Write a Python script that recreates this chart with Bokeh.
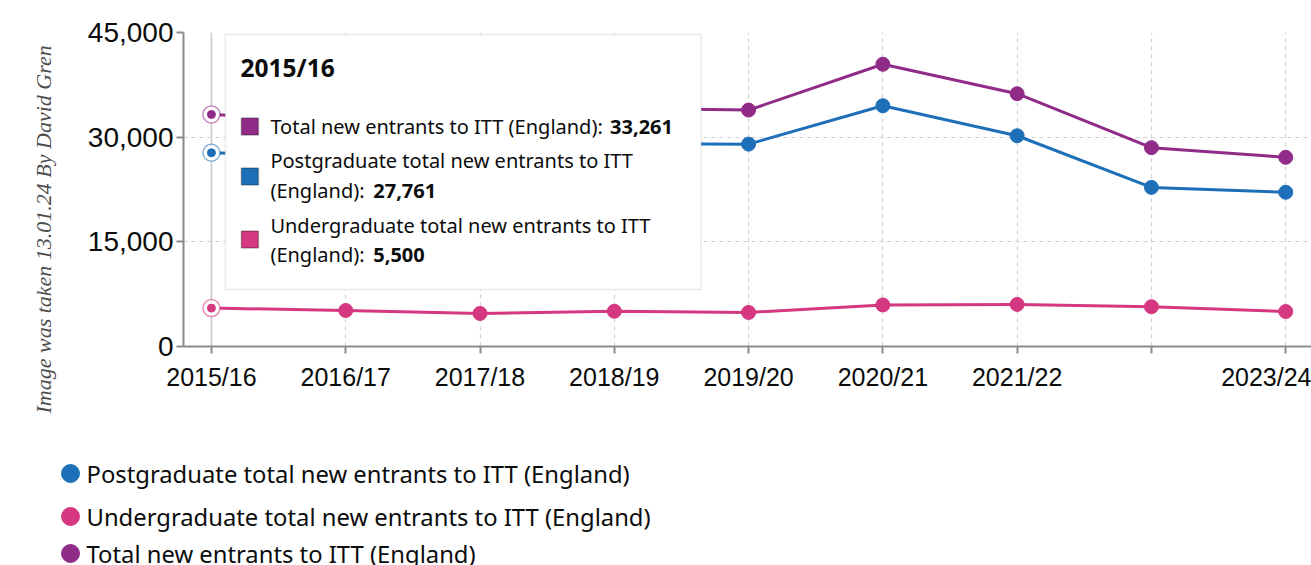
import math
from bokeh.plotting import figure
from bokeh.layouts import column
from bokeh.core.properties import value
from bokeh.models import (FixedTicker, NumeralTickFormatter, BoxAnnotation, Label, Span,
                          Range1d, Title)
from bokeh.embed import file_html
from bokeh.resources import INLINE

# ---------------- data ----------------
years = ["2015/16", "2016/17", "2017/18", "2018/19", "2019/20",
         "2020/21", "2021/22", "2022/23", "2023/24"]
hidden_tick_labels = ["2022/23"]          # label not shown on the reference axis
postgraduate = [27761, 27200, 27400, 29100, 29000, 34500, 30200, 22800, 22100]
undergraduate = [5500, 5160, 4740, 5050, 4880, 5950, 6030, 5700, 5010]
total = [33261, 32360, 32140, 34150, 33880, 40450, 36230, 28500, 27110]
y_ticks = [0, 15000, 30000, 45000]

series_names = ["Postgraduate total new entrants to ITT (England)",
                "Undergraduate total new entrants to ITT (England)",
                "Total new entrants to ITT (England)"]
series_values = [postgraduate, undergraduate, total]
series_colors = ["#1d70b8", "#d53880", "#912b88"]

hover_index = 0
watermark = "Image was taken 13.01.24 By David Gren"

TEXT = "#0b0c0c"
FONT = "Noto Sans"

x = list(range(len(years)))

# ---------------- main chart ----------------
p = figure(width=1311, height=430, output_backend="svg", toolbar_location=None,
           x_range=Range1d(-0.208, 8.192), y_range=Range1d(0, 45000),
           min_border_left=182, min_border_right=0, min_border_top=32,
           min_border_bottom=84, background_fill_color="white",
           border_fill_color="white")
p.outline_line_color = None
p.frame_align = False

p.add_layout(Title(text=watermark, align="left", offset=-67, standoff=57,
                   text_font="Liberation Serif", text_font_style="italic",
                   text_font_size="22px", text_color="#4d4d4d"), "left")

p.yaxis.ticker = FixedTicker(ticks=y_ticks)
p.yaxis.formatter = NumeralTickFormatter(format="0,0")
p.xaxis.ticker = FixedTicker(ticks=x)
p.xaxis.major_label_overrides = {i: ("" if y in hidden_tick_labels else y) for i, y in enumerate(years)}
for ax in (p.xaxis, p.yaxis):
    ax.axis_line_color = "#8a8c8e"
    ax.axis_line_width = 2
    ax.major_tick_line_color = "#8a8c8e"
    ax.major_tick_line_width = 2
    ax.major_tick_out = 7
    ax.major_tick_in = 0
    ax.minor_tick_line_color = None
    ax.major_label_text_color = TEXT
    ax.major_label_text_font = "Liberation Sans"
p.yaxis.major_label_text_font_size = "28px"
p.yaxis.major_label_standoff = 3
p.xaxis.major_label_text_font_size = "25px"
p.xaxis.major_label_standoff = 9

p.xgrid.ticker = FixedTicker(ticks=x)
p.ygrid.ticker = FixedTicker(ticks=y_ticks[1:])
for g in (p.xgrid, p.ygrid):
    g.grid_line_color = "#cfd1d2"
    g.grid_line_dash = "4 4"
    g.grid_line_width = 1.2

p.add_layout(Span(location=hover_index, dimension="height", line_color="#c8cacb",
                  line_width=1.5, level="underlay"))

for name, vals, col in zip(series_names, series_values, series_colors):
    p.line(x, vals, line_color=col, line_width=3)
    xs = [xi for xi in x if xi != hover_index]
    ys = [v for xi, v in zip(x, vals) if xi != hover_index]
    p.scatter(xs, ys, size=14, fill_color=col, line_color=col)
    p.scatter([hover_index], [vals[hover_index]], size=17, fill_color="white",
              line_color=col, line_alpha=0.55, line_width=1.5)
    p.scatter([hover_index], [vals[hover_index]], size=8, fill_color=col, line_color=col)

# ---------------- tooltip box ----------------
pxx = 134.4            # px per category
pyy = 45000 / 314.0    # value per px
def dx(px):
    return (px - 210) / pxx
def dy(py):
    return (346 - py) * pyy

p.add_layout(BoxAnnotation(left=dx(224), right=dx(700), top=dy(34), bottom=dy(289),
                           fill_color="white", fill_alpha=1.0, line_color="#b9bbbd",
                           line_width=1.5, level="overlay"))
p.add_layout(Label(x=dx(239), y=dy(67), text=years[hover_index], text_font=FONT,
                   text_font_style="bold", text_font_size="24.5px", text_color=TEXT,
                   text_baseline="middle", level="overlay"))

tip_order = [2, 0, 1]
tip_rows = {2: [126], 0: [160, 190], 1: [225, 254]}
tip_lines = {2: ["Total new entrants to ITT (England):"],
             0: ["Postgraduate total new entrants to ITT", "(England):"],
             1: ["Undergraduate total new entrants to ITT", "(England):"]}
tip_bold_x = {2: 609, 0: 372, 1: 372}
tip_square_y = {2: 126, 0: 176, 1: 239}
for k in tip_order:
    cy = tip_square_y[k]
    p.add_layout(BoxAnnotation(left=dx(240), right=dx(257), top=dy(cy - 8.5), bottom=dy(cy + 8.5),
                               fill_color=series_colors[k], fill_alpha=1.0,
                               line_color=TEXT, line_width=1.5, level="overlay"))
    for ry, txt in zip(tip_rows[k], tip_lines[k]):
        p.add_layout(Label(x=dx(269), y=dy(ry), text=txt, text_font=FONT,
                           text_font_size="20px", text_color=TEXT, text_baseline="middle",
                           level="overlay"))
    p.add_layout(Label(x=dx(tip_bold_x[k]), y=dy(tip_rows[k][-1]),
                       text=f"{series_values[k][hover_index]:,}", text_font=FONT,
                       text_font_style="bold", text_font_size="20px", text_color=TEXT,
                       text_baseline="middle", level="overlay"))

# ---------------- legend strip ----------------
lg = figure(width=1311, height=135, output_backend="svg", toolbar_location=None,
            x_range=Range1d(0, 1311), y_range=Range1d(0, 135), min_border=0,
            background_fill_color="white", border_fill_color="white")
lg.axis.visible = False
lg.grid.visible = False
lg.outline_line_color = None
lg.frame_align = False
legend_y = [135 - 43, 135 - 86, 135 - 123]
lg.scatter([70] * 3, legend_y, size=18, fill_color=series_colors, line_color=series_colors)
lg.text([86] * 3, legend_y, text=series_names, text_font=value(FONT), text_font_size="23.8px",
        text_color=TEXT, text_baseline="middle")

layout = column(p, lg, spacing=0)
open("out.html", "w").write(file_html(layout, INLINE))
